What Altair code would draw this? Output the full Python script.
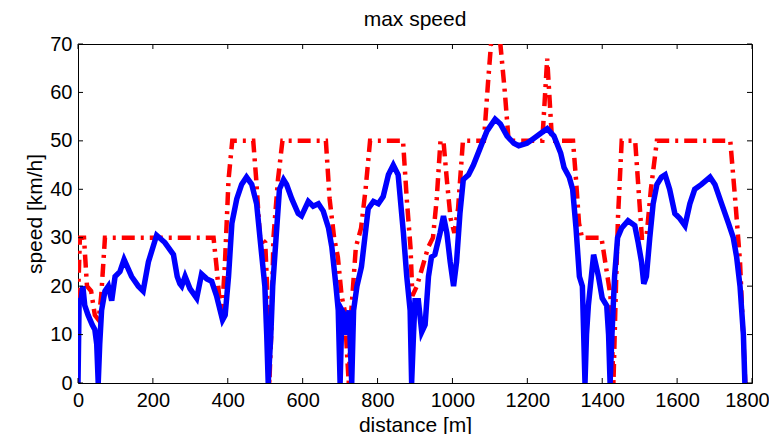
import altair as alt
import pandas as pd

# ---- data ----
speed_dist = [0, 3, 8, 13, 18, 27, 38, 45, 50, 54, 58, 63, 72, 81, 90, 99, 112, 123, 143, 161, 174, 188,
              210, 232, 255, 265, 272, 277, 286, 299, 317, 330, 344, 357, 370, 386, 393, 402, 411, 424,
              437, 450, 464, 477, 486, 499, 504, 508, 515, 520, 529, 538, 549, 557, 571, 588, 597, 606,
              615, 628, 642, 655, 669, 678, 689, 695, 700, 705, 712, 718, 724, 731, 736, 745, 757, 766,
              775, 789, 802, 815, 829, 842, 855, 869, 878, 887, 891, 896, 900, 909, 918, 927, 936, 944,
              953, 967, 976, 985, 994, 1003, 1011, 1020, 1029, 1043, 1056, 1074, 1092, 1114, 1128, 1146,
              1164, 1177, 1199, 1217, 1235, 1253, 1271, 1289, 1298, 1312, 1321, 1330, 1339, 1347, 1354,
              1358, 1363, 1371, 1377, 1390, 1400, 1412, 1417, 1421, 1426, 1433, 1441, 1452, 1469, 1487,
              1496, 1505, 1511, 1518, 1527, 1536, 1546, 1558, 1568, 1580, 1594, 1607, 1621, 1634, 1647,
              1665, 1688, 1701, 1719, 1737, 1750, 1759, 1768, 1777, 1781]
speed_kmh = [0, 17, 17, 20, 16, 14, 12, 11, 8, 0, 8, 15, 19, 20, 17, 22, 23, 25.5, 22, 20, 19, 25,
             30.5, 29, 26.5, 22, 20.5, 20, 22, 19.5, 17.5, 22.5, 21.5, 21, 18, 13, 14, 22, 33, 38,
             41, 42.5, 41, 37, 30, 20, 10, 0, 10, 20, 30, 40, 42, 41, 38, 35, 34.5, 36,
             37.5, 36.5, 37, 35.5, 32, 28, 20, 15, 0, 15, 14, 10, 15, 0, 15, 20, 24, 30,
             36, 37.5, 37, 38.5, 43, 45, 43, 31, 22, 15, 0, 10, 17, 17, 10.5, 12, 22, 26,
             26.5, 31, 34.5, 31, 25, 20, 25, 35, 42, 43, 45, 48.5, 52, 54.5, 53.5, 51,
             49.5, 49, 49.5, 50.5, 51.5, 52.5, 51, 47.5, 44.5, 42.5, 40, 32, 22, 20, 0,
             10, 16, 22, 26.5, 22, 17.5, 16, 10, 0, 10, 22, 30, 32, 33.5, 32.5,
             29, 25, 20.5, 22, 30, 37, 41, 42.5, 43, 40, 35, 34, 32.5, 37, 40,
             41, 42.5, 41, 37, 33, 30, 26, 20, 10, 0]

limit_dist = [0, 5, 16, 20, 24, 35, 45, 55, 62, 72, 362, 370, 378, 384, 392, 402, 412, 468, 476, 486,
              500, 505, 511, 516, 522, 534, 546, 662, 672, 684, 694, 704, 712, 723, 730, 742, 756, 768,
              780, 868, 878, 888, 893, 905, 920, 935, 948, 958, 968, 976, 985, 995, 1005, 1015, 1028,
              1084, 1095, 1103, 1128, 1140, 1150, 1240, 1253, 1266, 1322, 1330, 1338, 1346, 1398, 1410,
              1422, 1430, 1436, 1442, 1452, 1488, 1497, 1506, 1518, 1530, 1546, 1742, 1755, 1768, 1782]
limit_kmh = [17, 30, 30, 25, 20, 19, 14, 13, 18, 30, 30, 24, 17, 14, 24, 42, 50, 50, 42, 30,
             29, 20, 0, 10, 30, 42, 50, 50, 38, 30, 26, 18, 15, 0, 15, 28, 32, 40,
             50, 50, 38, 28, 18, 20, 24, 28, 30, 38, 50, 50, 42, 34, 31, 36, 50,
             50, 62, 70, 70, 60, 50, 50, 67, 50, 50, 42, 33, 30, 30, 24,
             18, 0, 18, 34, 50, 50, 40, 30, 30, 40, 50, 50, 38, 25, 0]

x_ticks = [0, 200, 400, 600, 800, 1000, 1200, 1400, 1600, 1800]
y_ticks = [0, 10, 20, 30, 40, 50, 60, 70]
chart_title = ["max speed"]

speed_df = pd.DataFrame({"distance": speed_dist, "speed": speed_kmh})
limit_df = pd.DataFrame({"distance": limit_dist, "speed": limit_kmh})
xt_df = pd.DataFrame({"distance": x_ticks})
yt_df = pd.DataFrame({"speed": y_ticks})
title_df = pd.DataFrame({"title": chart_title})

FONT = "Liberation Sans"
W, H = 674, 339

xscale = alt.Scale(domain=[0, 1800], nice=False, zero=False)
yscale = alt.Scale(domain=[0, 70], nice=False, zero=False)

x_axis = alt.Axis(
    values=x_ticks, format="d", labelOverlap=False, labelFlush=False,
    labelOffset={"condition": {"test": "datum.value == 1800", "value": -5}, "value": 0},
    title="distance [m]", labelPadding=7, titleY=48, titleBaseline="alphabetic")
y_axis = alt.Axis(values=y_ticks, format="d", labelOverlap=False, labelFlush=False,
                  title="speed [km/h]", labelPadding=6, titleX=-37, titleBaseline="alphabetic")
x_enc = alt.X("distance:Q", scale=xscale, axis=x_axis)
y_enc = alt.Y("speed:Q", scale=yscale, axis=y_axis)

limit_line = alt.Chart(limit_df).mark_line(
    color="#ff0000", strokeWidth=4.5, strokeDash=[13, 6, 3, 6], clip=True
).encode(x=x_enc, y=y_enc)

speed_line = alt.Chart(speed_df).mark_line(
    color="#0000ff", strokeWidth=5.5, clip=True
).encode(x=x_enc, y=y_enc)

tick_len = 5
bottom_ticks = alt.Chart(xt_df).mark_rule(color="black", strokeWidth=1).encode(
    x=x_enc, y=alt.value(H), y2=alt.value(H - tick_len))
top_ticks = alt.Chart(xt_df).mark_rule(color="black", strokeWidth=1).encode(
    x=x_enc, y=alt.value(0), y2=alt.value(tick_len))
left_ticks = alt.Chart(yt_df).mark_rule(color="black", strokeWidth=1).encode(
    y=y_enc, x=alt.value(0), x2=alt.value(tick_len))
right_ticks = alt.Chart(yt_df).mark_rule(color="black", strokeWidth=1).encode(
    y=y_enc, x=alt.value(W), x2=alt.value(W - tick_len))

title_text = alt.Chart(title_df).mark_text(
    font=FONT, fontSize=21, color="black", align="center", baseline="alphabetic"
).encode(x=alt.value(W / 2), y=alt.value(-18), text="title:N")

chart = alt.layer(
    limit_line, speed_line, bottom_ticks, top_ticks, left_ticks, right_ticks, title_text
).properties(
    width=W, height=H,
    autosize=alt.AutoSizeParams(type="none"),
    padding={"left": 70, "top": 36, "right": 17, "bottom": 51},
    background="white",
).configure_view(
    stroke="black", strokeWidth=1
).configure_axis(
    labelFont=FONT, labelFontSize=20, labelColor="black",
    titleFont=FONT, titleFontSize=21, titleColor="black", titleFontWeight="normal",
    ticks=False, tickSize=0, grid=False, domain=False
)

chart.save("out.html", embed_options={"renderer": "svg", "actions": False})
